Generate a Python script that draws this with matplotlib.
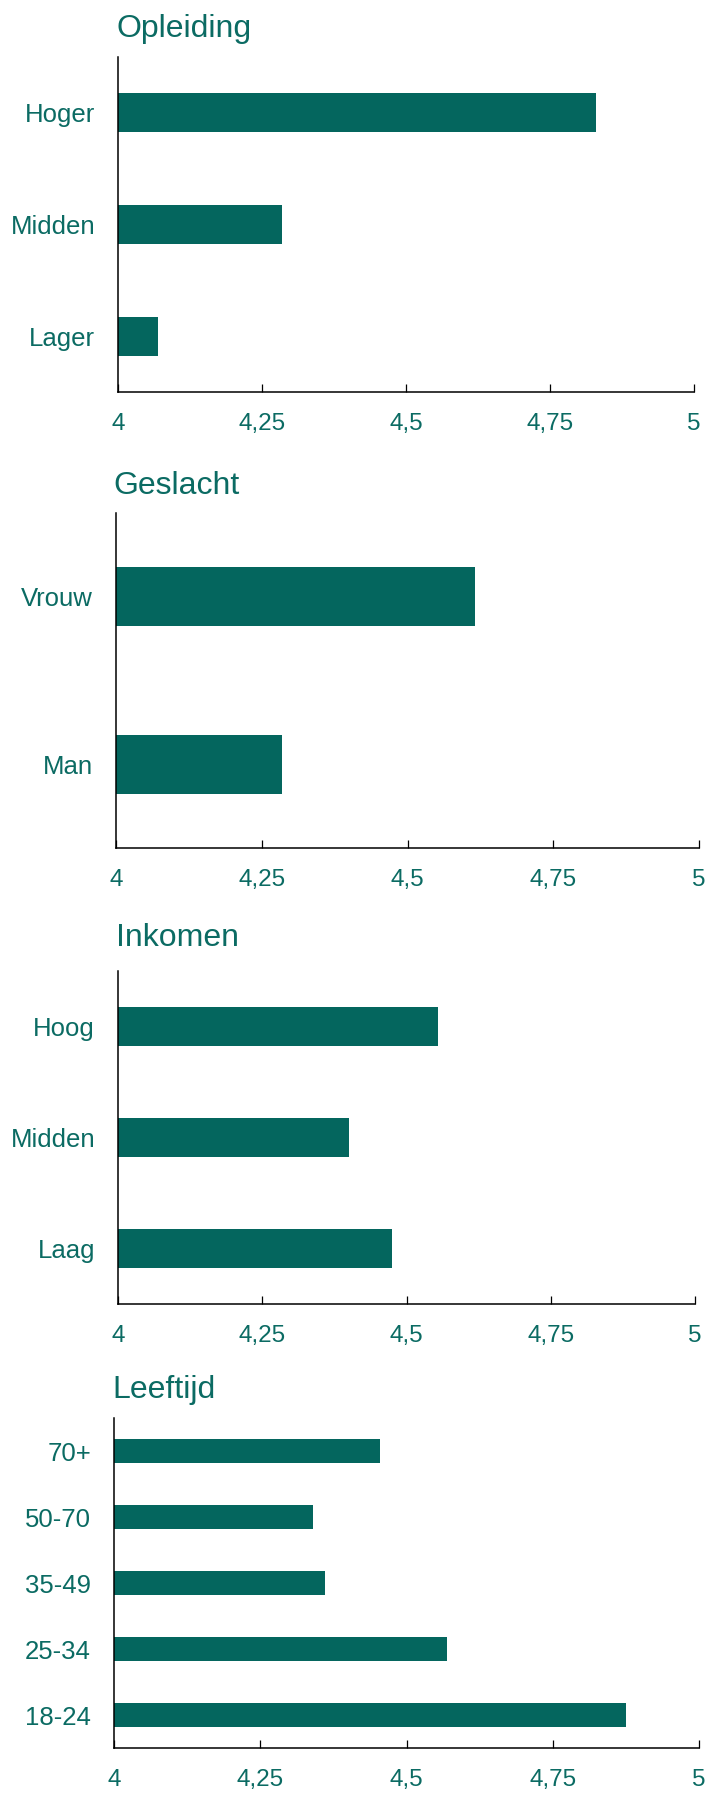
import matplotlib
matplotlib.use("Agg")
import matplotlib.pyplot as plt

# =====================================================
# DATA
# =====================================================

opleiding_labels = ["Hoger", "Midden", "Lager"]
opleiding_values = [4.83, 4.285, 4.07]

geslacht_labels = ["Vrouw", "Man"]
geslacht_values = [4.615, 4.285]

inkomen_labels = ["Hoog", "Midden", "Laag"]
inkomen_values = [4.555, 4.40, 4.475]

leeftijd_labels = ["70+", "50-70", "35-49", "25-34", "18-24"]
leeftijd_values = [4.455, 4.34, 4.36, 4.57, 4.875]

x_ticks = [4, 4.25, 4.5, 4.75, 5]
x_tick_labels = ["4", "4,25", "4,5", "4,75", "5"]

# =====================================================
# STYLE
# =====================================================

BAR = "#04665e"
TXT = "#0b6b63"

plt.rcParams["font.family"] = ["Liberation Sans", "DejaVu Sans"]

W, H = 706, 1794
fig = plt.figure(figsize=(W / 100, H / 100), dpi=100)

# panel boxes in pixels: left, right, top, bottom, title x, title baseline
panels = [
    ("Opleiding", opleiding_labels, opleiding_values, (118, 694, 57, 392, 116, 37)),
    ("Geslacht", geslacht_labels, geslacht_values, (116, 699, 513, 848, 113, 494)),
    ("Inkomen", inkomen_labels, inkomen_values, (118, 695, 971, 1304, 116, 946)),
    ("Leeftijd", leeftijd_labels, leeftijd_values, (114, 699, 1418, 1748, 112, 1398)),
]

for title, labels, values, box in panels:

    l, r, t, b, tx, ty = box

    ax = fig.add_axes([l / W, 1 - b / H, (r - l) / W, (b - t) / H])

    pos = list(range(len(labels)))

    ax.barh(pos, values, left=0, height=0.35, color=BAR, zorder=2)

    ax.set_xlim(4, 5)
    ax.set_ylim(len(labels) - 0.5, -0.5)

    ax.set_xticks(x_ticks)
    ax.set_xticklabels(x_tick_labels)
    ax.set_yticks(pos)
    ax.set_yticklabels(labels)

    for s in ["top", "right"]:
        ax.spines[s].set_visible(False)
    for s in ["left", "bottom"]:
        ax.spines[s].set_linewidth(1.1)
        ax.spines[s].set_color("black")

    ax.tick_params(
        axis="x",
        direction="in",
        length=6,
        width=0.9,
        color="black",
        pad=15,
        labelsize=17.5,
        labelcolor=TXT
    )
    ax.tick_params(
        axis="y",
        length=0,
        pad=16.5,
        labelsize=18.5,
        labelcolor=TXT
    )

    fig.text(
        tx / W,
        1 - ty / H,
        title,
        fontsize=23,
        color=TXT,
        ha="left",
        va="baseline"
    )

plt.savefig("out.png", dpi=100)
plt.close()
